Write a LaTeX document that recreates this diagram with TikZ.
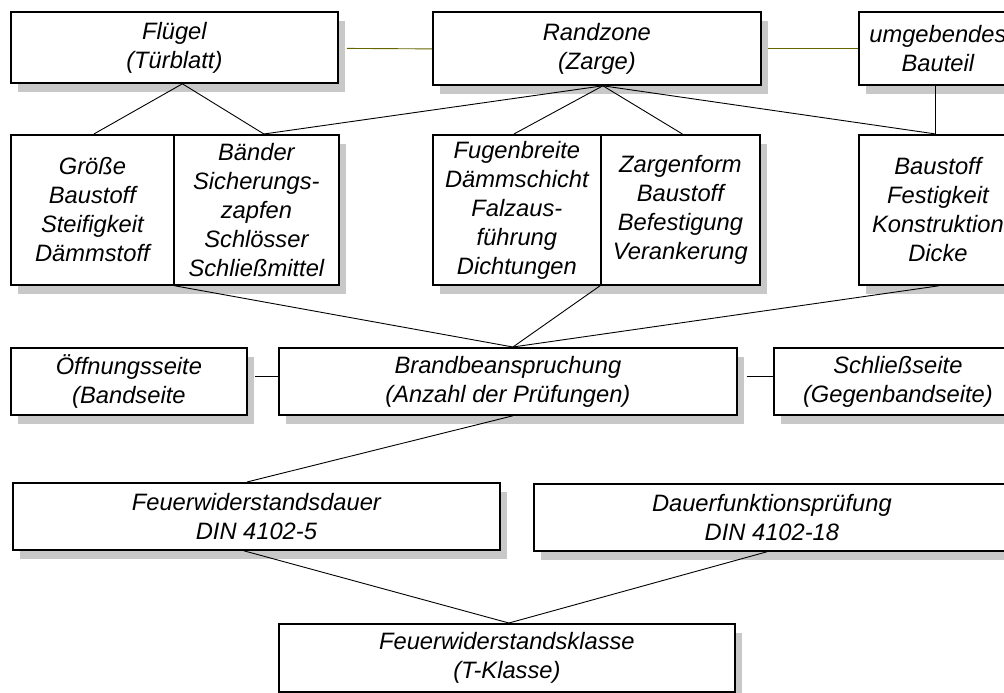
\documentclass[tikz,border=0pt]{standalone}
\usepackage{fontspec}
\setmainfont{Liberation Sans}
\usetikzlibrary{shadows}
\definecolor{shadowgray}{RGB}{200,200,200}
\definecolor{olivelink}{RGB}{102,102,0}
\tikzset{
  box/.style={draw=black, line width=1.8pt, fill=white, inner sep=0pt, align=center,
    anchor=north west,
    font=\itshape\fontsize{23.7pt}{29pt}\selectfont,
    general shadow={fill=shadowgray, shadow xshift=7pt, shadow yshift=-9pt}},
  link/.style={draw=black, line width=0.9pt},
  olink/.style={draw=olivelink, line width=0.9pt}
}
\begin{document}
\begin{tikzpicture}[x=1pt,y=-1pt]
\useasboundingbox (0,0) rectangle (1004,693);
% row 1
\node[box, minimum width=327pt, minimum height=71pt] (flugel) at (10,11) {Flügel\\(Türblatt)};
\node[box, minimum width=328pt, minimum height=73pt] (randzone) at (432,11) {Randzone\\(Zarge)};
\node[box, minimum width=158pt, minimum height=73pt] (umgeb) at (858,11) {umgebendes\\Bauteil};
% row 2
\node[box, minimum width=163pt, minimum height=150pt] (grosse) at (10,134) {Größe\\Baustoff\\Steifigkeit\\Dämmstoff};
\node[box, minimum width=165pt, minimum height=150pt] (baender) at (173,134) {Bänder\\Sicherungs-\\zapfen\\Schlösser\\Schließmittel};
\node[box, minimum width=168pt, minimum height=150pt] (fugen) at (432,134) {Fugenbreite\\Dämmschicht\\Falzaus-\\führung\\Dichtungen};
\node[box, minimum width=159pt, minimum height=150pt] (zargen) at (600,134) {Zargenform\\Baustoff\\Befestigung\\Verankerung};
\node[box, minimum width=158pt, minimum height=150pt] (baust) at (858,134) {Baustoff\\Festigkeit\\Konstruktion\\Dicke};
% row 3
\node[box, minimum width=236pt, minimum height=67pt] (offn) at (10,347) {Öffnungsseite\\(Bandseite};
\node[box, minimum width=458pt, minimum height=67pt] (brand) at (278,347) {Brandbeanspruchung\\(Anzahl der Prüfungen)};
\node[box, minimum width=248pt, minimum height=67pt] (schliess) at (773,347) {Schließseite\\(Gegenbandseite)};
% row 4
\node[box, minimum width=487pt, minimum height=67pt] (fdauer) at (12,482) {Feuerwiderstandsdauer\\DIN 4102-5};
\node[box, minimum width=476pt, minimum height=67pt] (dfp) at (533,483) {Dauerfunktionsprüfung\\DIN 4102-18};
% row 5
\node[box, minimum width=456pt, minimum height=68pt] (klasse) at (278,623) {Feuerwiderstandsklasse\\(T-Klasse)};

% connectors, row 1
\draw[olink] ([xshift=8pt,yshift=-1pt]flugel.east) -- ([yshift=-0.5pt]randzone.west);
\draw[olink] ([xshift=6pt]randzone.east) -- (umgeb.west);
% row 1 -> row 2
\draw[link] ([xshift=1.5pt]grosse.north) -- ([xshift=8pt]flugel.south) -- ([xshift=7.5pt]baender.north);
\draw[link] ([xshift=7.5pt]baender.north) -- ([xshift=6pt]randzone.south);
\draw[link] ([xshift=-3pt]fugen.north) -- ([xshift=6pt]randzone.south) -- ([xshift=2pt]zargen.north);
\draw[link] ([xshift=6pt]randzone.south) -- ([xshift=-2pt]baust.north);
\draw[link] ([xshift=-2pt]umgeb.south) -- ([xshift=-2pt]baust.north);
% row 2 -> row 3
\draw[link] (grosse.south east) -- ([xshift=5pt]brand.north);
\draw[link] (zargen.south west) -- ([xshift=5pt]brand.north);
\draw[link] ([xshift=1pt]baust.south) -- ([xshift=5pt]brand.north);
\draw[link] ([xshift=7pt,yshift=4.5pt]offn.east) -- ([yshift=4.5pt]brand.west);
\draw[link] ([xshift=9pt,yshift=4.5pt]brand.east) -- ([yshift=4.5pt]schliess.west);
% row 3 -> row 4 -> row 5
\draw[link] ([xshift=5pt]brand.south) -- ([xshift=-9.5pt]fdauer.north);
\draw[link] ([xshift=-12.5pt]fdauer.south) -- ([xshift=2pt]klasse.north);
\draw[link] ([xshift=-5pt]dfp.south) -- ([xshift=2pt]klasse.north);
\end{tikzpicture}
\end{document}
